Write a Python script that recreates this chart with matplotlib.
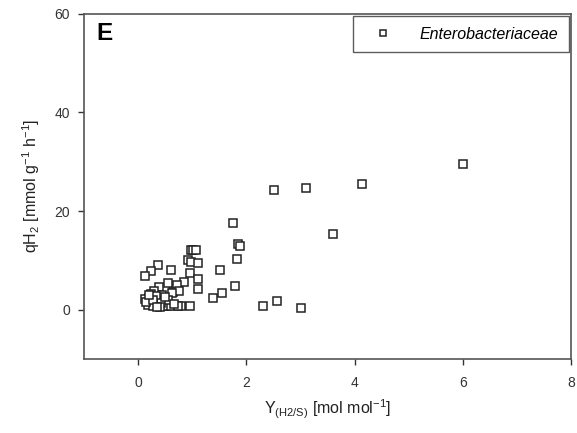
import matplotlib
matplotlib.use("Agg")
import matplotlib.pyplot as plt

plt.rcParams['font.family'] = ['Liberation Sans', 'DejaVu Sans']

# Y(H2/S) [mol/mol]
yield_h2 = [6.00, 4.13, 3.10, 2.52, 3.61, 3.02, 2.56, 2.31,
            1.76, 1.84, 1.88, 1.82, 1.80, 1.51, 1.55, 1.38,
            0.98, 1.02, 1.07, 0.93, 0.98, 1.10, 0.96, 1.11, 1.11, 0.96, 0.80,
            0.37, 0.23, 0.61, 0.13, 0.84, 0.72, 0.55, 0.39, 0.64, 0.45, 0.30,
            0.76, 0.63, 0.21, 0.12, 0.18, 0.27, 0.36, 0.47, 0.53, 0.61, 0.73,
            0.24, 0.55, 0.33, 0.42, 0.15, 0.50, 0.28, 0.40, 0.67, 0.20, 0.35]
# qH2 [mmol g-1 h-1]
q_h2 = [29.5, 25.5, 24.7, 24.2, 15.3, 0.4, 1.8, 0.8,
        17.6, 13.3, 13.0, 10.2, 4.8, 8.1, 3.4, 2.3,
        12.2, 12.2, 12.2, 10.0, 9.7, 9.5, 7.4, 6.3, 4.2, 0.8, 0.8,
        9.1, 7.9, 8.1, 6.8, 5.6, 5.1, 5.4, 4.6, 3.5, 3.0, 3.7,
        3.7, 3.4, 2.4, 2.1, 1.0, 0.7, 1.7, 0.8, 0.8, 0.8, 0.7,
        3.2, 2.0, 2.8, 1.3, 1.6, 2.5, 2.0, 0.6, 1.2, 3.0, 0.6]

series_label = "Enterobacteriaceae"
x_ticks = [0, 2, 4, 6, 8]
y_ticks = [0, 20, 40, 60]

fig = plt.figure(figsize=(5.77, 4.33), dpi=100)
ax = fig.add_axes([0.1455, 0.171, 0.844, 0.797])

ax.plot(yield_h2, q_h2, linestyle='none', marker='s', markersize=5.3,
        markerfacecolor='white', markeredgecolor='#222222', markeredgewidth=1.1,
        label=series_label)

ax.set_xlim(-1, 8)
ax.set_ylim(-10, 60)
ax.set_xticks(x_ticks)
ax.set_yticks(y_ticks)
ax.tick_params(direction='out', length=4, width=1, labelsize=10, colors='#333333',
               top=False, right=False)
ax.tick_params(axis='x', pad=8)
ax.tick_params(axis='y', pad=6)
for s in ax.spines.values():
    s.set_color('#555555')
    s.set_linewidth(1.2)

ax.set_xlabel(r"Y$_{\mathregular{(H2/S)}}$ [mol mol$^{\mathregular{-1}}$]", fontsize=11.5,
              color='#222222', labelpad=6)
ax.set_ylabel(r"qH$_{\mathregular{2}}$ [mmol g$^{\mathregular{-1}}$ h$^{\mathregular{-1}}$]", fontsize=11.5,
              color='#222222', labelpad=9)

ax.text(0.026, 0.975, "E", transform=ax.transAxes, fontsize=17.5, fontweight='bold',
        va='top', ha='left')

leg = ax.legend(loc='upper right', frameon=True, fancybox=False,
                prop={'style': 'italic', 'size': 11.5}, borderpad=0.65,
                handletextpad=1.1, borderaxespad=0.15, markerscale=0.9,
                handlelength=2.4)
leg.get_frame().set_edgecolor('#333333')
leg.get_frame().set_linewidth(1.0)

fig.savefig("out.png", dpi=100)
